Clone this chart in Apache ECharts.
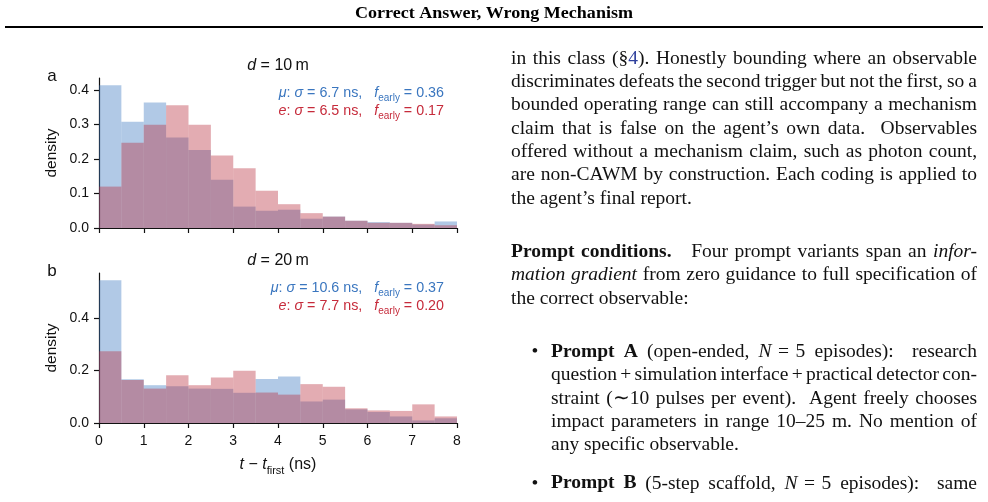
<!DOCTYPE html>
<html><head><meta charset="utf-8">
<script src="https://cdn.jsdelivr.net/npm/echarts@6/dist/echarts.min.js"></script>
<style>html,body{margin:0;padding:0;background:#fff}#c{width:988px;height:502px}</style>
</head><body><div id="c"></div>
<script>
// ---------------- data ----------------
const binEdges = [0, 0.5, 1, 1.5, 2, 2.5, 3, 3.5, 4, 4.5, 5, 5.5, 6, 6.5, 7, 7.5, 8];
// panel a  (d = 10 m)
const muA = [0.414, 0.308, 0.364, 0.262, 0.226, 0.140, 0.062, 0.050, 0.053, 0.027, 0.033, 0.021, 0.017, 0.015, 0.010, 0.019];
const eA  = [0.120, 0.247, 0.299, 0.356, 0.299, 0.210, 0.173, 0.108, 0.069, 0.043, 0.033, 0.021, 0.015, 0.015, 0.012, 0.008];
// panel b  (d = 20 m)
const muB = [0.544, 0.167, 0.144, 0.140, 0.131, 0.130, 0.115, 0.168, 0.177, 0.082, 0.089, 0.052, 0.042, 0.025, 0.010, 0.018];
const eB  = [0.273, 0.164, 0.131, 0.182, 0.144, 0.173, 0.199, 0.116, 0.108, 0.148, 0.138, 0.056, 0.048, 0.046, 0.071, 0.025];
const xTicks = [0, 1, 2, 3, 4, 5, 6, 7, 8];
const yTicksA = [0, 0.1, 0.2, 0.3, 0.4];
const yTicksB = [0, 0.2, 0.4];
const panelLetters = ['a', 'b'];
const panelDist = ['10', '20'];
const sigmaMu = ['6.7', '10.6'];
const fEarlyMu = ['0.36', '0.37'];
const sigmaE = ['6.5', '7.7'];
const fEarlyE = ['0.17', '0.20'];
const headerText = 'Correct Answer, Wrong Mechanism';
const bodyLines = [
  'in this class (§{c|4}). Honestly bounding where an observable',
  'discriminates defeats the second trigger but not the first, so a',
  'bounded operating range can still accompany a mechanism',
  'claim that is false on the agent’s own data.  Observables',
  'offered without a mechanism claim, such as photon count,',
  'are non-CAWM by construction. Each coding is applied to',
  'the agent’s final report.',
  '{b|Prompt conditions.}   Four prompt variants span an {i|infor-}',
  '{i|mation gradient} from zero guidance to full specification of',
  'the correct observable:',
  '{b|Prompt A} (open-ended, {i|N}\u2004=\u20045 episodes):  research',
  'question + simulation interface + practical detector con-',
  'straint (\u223c10 pulses per event).  Agent freely chooses',
  'impact parameters in range 10–25 m. No mention of',
  'any specific observable.',
  '{b|Prompt B} (5-step scaffold, {i|N}\u2004=\u20045 episodes):  same'
];

// ---------------- layout / style ----------------
const bodyLayout = [
  {y: 65, x0: 511, j: 1}, {y: 88.3, x0: 511, j: 1}, {y: 111.7, x0: 511, j: 1}, {y: 135, x0: 511, j: 1},
  {y: 158.3, x0: 511, j: 1}, {y: 181.7, x0: 511, j: 1}, {y: 205, x0: 511, j: 0},
  {y: 258.3, x0: 511, j: 1}, {y: 281.7, x0: 511, j: 1}, {y: 305, x0: 511, j: 0},
  {y: 358.3, x0: 551, j: 1, bullet: 1}, {y: 381.7, x0: 551, j: 1}, {y: 405, x0: 551, j: 1},
  {y: 428.3, x0: 551, j: 1}, {y: 451.7, x0: 551, j: 0},
  {y: 490, x0: 551, j: 1, bullet: 1}
];
const RIGHT = 977;
const SERIF = '"Liberation Serif", "Times New Roman", serif';
const SANS = '"Liberation Sans", Arial, Helvetica, sans-serif';
const BODY_FS = 19.5;
const runStyles = {
  r: {fontWeight: 'normal', fontStyle: 'normal', fill: '#111'},
  b: {fontWeight: 'bold', fontStyle: 'normal', fill: '#111'},
  i: {fontWeight: 'normal', fontStyle: 'italic', fill: '#111'},
  c: {fontWeight: 'normal', fontStyle: 'normal', fill: '#2e3f9c'}
};
const BLUE = '#3a76bf', RED = '#c62b3b';
const BLUE_FILL = 'rgba(60,120,192,0.40)', RED_FILL = 'rgba(184,48,63,0.40)';

const cnv = document.createElement('canvas').getContext('2d');
function measure(t, s, fs, fam) {
  const st = runStyles[s];
  cnv.font = st.fontStyle + ' ' + st.fontWeight + ' ' + fs + 'px ' + fam;
  return cnv.measureText(t).width;
}
function parseLine(str) {
  const runs = [];
  const re = /\{(\w)\|([^}]*)\}|([^{]+)/g;
  let m;
  while ((m = re.exec(str))) {
    if (m[3] !== undefined) runs.push({s: 'r', t: m[3]});
    else runs.push({s: m[1], t: m[2]});
  }
  const words = [], gaps = [];
  let cur = [], gw = 0;
  runs.forEach(run => {
    run.t.split(/( +)/).forEach(p => {
      if (p === '') return;
      if (/^ +$/.test(p)) {
        if (cur.length) { words.push(cur); cur = []; }
        gw += p.length;
      } else {
        if (cur.length === 0 && words.length > 0) gaps.push(gw);
        gw = 0;
        cur.push({s: run.s, t: p});
      }
    });
  });
  if (cur.length) words.push(cur);
  return {words, gaps};
}
function bodyElements() {
  const els = [];
  const spaceW = measure(' ', 'r', BODY_FS, SERIF);
  const dy = -0.3375 * BODY_FS;
  bodyLines.forEach((line, li) => {
    const L = bodyLayout[li];
    const {words, gaps} = parseLine(line);
    const widths = words.map(w => w.reduce((a, r) => a + measure(r.t, r.s, BODY_FS, SERIF), 0));
    const total = widths.reduce((a, b) => a + b, 0);
    const gsum = gaps.reduce((a, b) => a + b, 0);
    const unit = L.j && gsum ? (RIGHT - L.x0 - total) / gsum : spaceW;
    let x = L.x0;
    words.forEach((w, wi) => {
      w.forEach(r => {
        const st = runStyles[r.s];
        els.push({type: 'text', x: x, y: L.y + dy, silent: true, style: {
          text: r.t, fontFamily: SERIF, fontSize: BODY_FS, fontWeight: st.fontWeight,
          fontStyle: st.fontStyle, fill: st.fill, align: 'left', verticalAlign: 'middle'}});
        x += measure(r.t, r.s, BODY_FS, SERIF);
      });
      if (wi < gaps.length) x += gaps[wi] * unit;
    });
    if (L.bullet) {
      els.push({type: 'text', x: 535, y: L.y + dy, silent: true, style: {
        text: '•', fontFamily: SERIF, fontSize: BODY_FS, fill: '#111', align: 'center', verticalAlign: 'middle'}});
    }
  });
  return els;
}

// header
cnv.font = 'bold 17px ' + SERIF;
const headerScale = 278 / cnv.measureText(headerText).width;

function sansRich(fs, fill) {
  return {
    n: {fontFamily: SANS, fontSize: fs, fill: fill, fontStyle: 'normal', lineHeight: fs + 6, verticalAlign: 'middle'},
    it: {fontFamily: SANS, fontSize: fs, fill: fill, fontStyle: 'italic', lineHeight: fs + 6, verticalAlign: 'middle'},
    sub: {fontFamily: SANS, fontSize: Math.round(fs * 0.7), fill: fill, fontStyle: 'normal', lineHeight: fs + 6, verticalAlign: 'bottom'}
  };
}

const panelTop = [78, 273];
const panelH = [150, 150];
const chartEls = [];
[0, 1].forEach(k => {
  const top = panelTop[k], h = panelH[k];
  chartEls.push({type: 'text', x: 52, y: top - 2, silent: true, style: {
    text: panelLetters[k], fontFamily: SANS, fontSize: 17, fill: '#111', align: 'center', verticalAlign: 'middle'}});
  chartEls.push({type: 'text', x: 278, y: top - 12.5, silent: true, style: {
    text: '{it|d}{n| = ' + panelDist[k] + '\u2009m}', align: 'center', verticalAlign: 'middle', rich: sansRich(16, '#111')}});
  chartEls.push({type: 'text', x: 444, y: top + 15, silent: true, style: {
    text: '{it|μ}{n|: }{it|σ}{n| = ' + sigmaMu[k] + ' ns,   }{it|f}{sub|early}{n| = ' + fEarlyMu[k] + '}',
    align: 'right', verticalAlign: 'middle', rich: sansRich(14.3, BLUE)}});
  chartEls.push({type: 'text', x: 444, y: top + 33.5, silent: true, style: {
    text: '{it|e}{n|: }{it|σ}{n| = ' + sigmaE[k] + ' ns,   }{it|f}{sub|early}{n| = ' + fEarlyE[k] + '}',
    align: 'right', verticalAlign: 'middle', rich: sansRich(14.3, RED)}});
  chartEls.push({type: 'text', x: 52, y: top + h / 2, rotation: Math.PI / 2, silent: true, style: {
    text: 'density', fontFamily: SANS, fontSize: 15.5, fill: '#111', align: 'center', verticalAlign: 'middle'}});
});
chartEls.push({type: 'text', x: 278, y: 465, silent: true, style: {
  text: '{it|t}{n| − }{it|t}{sub|first}{n| (ns)}', align: 'center', verticalAlign: 'middle', rich: sansRich(16, '#111')}});

function histData(vals) {
  return vals.map((v, i) => [binEdges[i], binEdges[i + 1], v]);
}
function renderHist(fill) {
  return function (params, api) {
    const p0 = api.coord([api.value(0), api.value(2)]);
    const p1 = api.coord([api.value(1), 0]);
    return {type: 'rect', shape: {x: p0[0], y: p0[1], width: p1[0] - p0[0], height: p1[1] - p0[1]},
      style: {fill: fill}};
  };
}
const yMaxA = 1.05 * Math.max(...muA, ...eA);
const yMaxB = 1.05 * Math.max(...muB, ...eB);

function xAxisCfg(idx, showLabel) {
  return {gridIndex: idx, type: 'value', min: 0, max: 8, interval: 1,
    axisLine: {show: true, onZero: false, lineStyle: {color: '#111', width: 1.2}},
    axisTick: {show: true, length: 5, lineStyle: {color: '#111', width: 1.2}, customValues: xTicks},
    axisLabel: {show: showLabel, fontFamily: SANS, fontSize: 14, color: '#111', margin: 11, customValues: xTicks},
    splitLine: {show: false}};
}
function yAxisCfg(idx, max, ticks) {
  return {gridIndex: idx, type: 'value', min: 0, max: max,
    axisLine: {show: true, onZero: false, lineStyle: {color: '#111', width: 1.2}},
    axisTick: {show: true, length: 5, lineStyle: {color: '#111', width: 1.2}, customValues: ticks},
    axisLabel: {fontFamily: SANS, fontSize: 14, color: '#111', margin: 10, customValues: ticks,
      formatter: v => Number(v).toFixed(1)},
    splitLine: {show: false}};
}

const chart = echarts.init(document.getElementById('c'), null, {renderer: 'canvas'});
chart.setOption({
  animation: false,
  backgroundColor: '#fff',
  grid: [
    {left: 99, top: panelTop[0], width: 358, height: panelH[0]},
    {left: 99, top: panelTop[1], width: 358, height: panelH[1]}
  ],
  xAxis: [xAxisCfg(0, false), xAxisCfg(1, true)],
  yAxis: [yAxisCfg(0, yMaxA, yTicksA), yAxisCfg(1, yMaxB, yTicksB)],
  series: [
    {name: 'μ (d=10 m)', type: 'custom', xAxisIndex: 0, yAxisIndex: 0, data: histData(muA), encode: {x: [0, 1], y: 2}, renderItem: renderHist(BLUE_FILL), z: 2},
    {name: 'e (d=10 m)', type: 'custom', xAxisIndex: 0, yAxisIndex: 0, data: histData(eA), encode: {x: [0, 1], y: 2}, renderItem: renderHist(RED_FILL), z: 3},
    {name: 'μ (d=20 m)', type: 'custom', xAxisIndex: 1, yAxisIndex: 1, data: histData(muB), encode: {x: [0, 1], y: 2}, renderItem: renderHist(BLUE_FILL), z: 2},
    {name: 'e (d=20 m)', type: 'custom', xAxisIndex: 1, yAxisIndex: 1, data: histData(eB), encode: {x: [0, 1], y: 2}, renderItem: renderHist(RED_FILL), z: 3}
  ],
  graphic: [
    {type: 'text', x: 494, y: 14, scaleX: headerScale, silent: true, style: {
      text: headerText, fontFamily: SERIF, fontSize: 17, fontWeight: 'bold', fill: '#000', align: 'center', verticalAlign: 'middle'}},
    {type: 'rect', silent: true, shape: {x: 5, y: 26, width: 978, height: 2}, style: {fill: '#000'}},
    ...chartEls,
    ...bodyElements()
  ]
});
</script></body></html>
